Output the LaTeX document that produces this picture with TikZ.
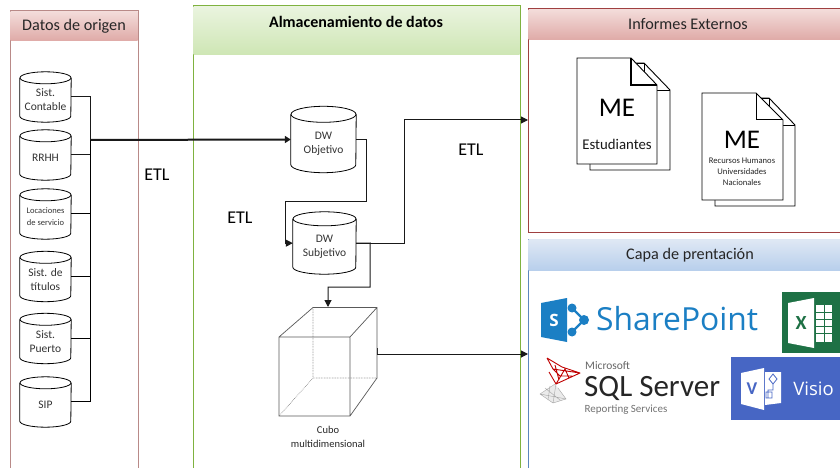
\documentclass[tikz,border=0pt]{standalone}
\usepackage{fontspec}
\setmainfont{Carlito}
\newfontfamily\segoe{Open Sans}
\usetikzlibrary{arrows.meta,calc}
\definecolor{panelred}{HTML}{B98A88}
\definecolor{darkred}{HTML}{A04040}
\definecolor{panelgreen}{HTML}{7FB23F}
\definecolor{panelblue}{HTML}{5C86BF}
\definecolor{spblue}{HTML}{1B7FC4}
\definecolor{xlgreen}{HTML}{1E7145}
\definecolor{visblue}{HTML}{4766C4}
\definecolor{redtop}{HTML}{F3DCDA}
\definecolor{redbot}{HTML}{DFAAA7}
\definecolor{greentop}{HTML}{EAF4DF}
\definecolor{greenbot}{HTML}{CEE6B4}
\definecolor{bluetop}{HTML}{DFE8F4}
\definecolor{bluebot}{HTML}{B8CFEC}
\tikzset{
  x=1pt,y=-1pt,
  db/.style={rectangle,minimum height=44pt,minimum width=51pt,inner sep=0pt,align=center,text=black!80,font=\fontsize{11.5}{14}\selectfont},
  dbbig/.style={db,minimum height=58pt,minimum width=65pt},
  cylline/.style={draw=black,line width=0.8pt},
  link/.style={draw=black!90,line width=0.8pt},
  buslink/.style={draw=black,line width=1.1pt},
  flow/.style={draw=black!90,line width=1pt,-{Triangle[length=7pt,width=7pt]}},
  panel/.style={draw=#1,line width=1pt,fill=white},
  head/.style={anchor=center,font=\fontsize{16.2}{18}\selectfont,text=black!85},
  etl/.style={font=\fontsize{18}{20}\selectfont,text=black},
  sheet/.style={draw=black,line width=0.9pt,fill=white,line join=miter},
}
\newcommand{\cyl}[3]{%
  \draw[cylline] (#1.north) circle[x radius=#3pt,y radius=#2pt];
  \draw[cylline] (#1.north west) -- ($(#1.south west)+(0,-#2)$)
     arc[start angle=180,end angle=360,x radius=#3pt,y radius=#2pt]
     -- (#1.north east);
}
\begin{document}
\begin{tikzpicture}
\useasboundingbox (0,0) rectangle (840,468);
\clip (0,0) rectangle (840,468);
\fill[white] (0,0) rectangle (840,468);
% panels
\draw[panel=panelred] (10,11) rectangle (138,480);
\shade[top color=redtop,bottom color=redbot] (10.5,11.5) rectangle (137.5,41);
\draw[panel=panelgreen] (193,6) rectangle (520,480);
\shade[top color=greentop,bottom color=greenbot] (193.5,6.5) rectangle (519.5,55);
\draw[panel=darkred] (528,9) rectangle (860,232);
\shade[top color=redtop,bottom color=redbot] (528.5,9.5) rectangle (859,40);
\draw[panel=panelblue] (528,239) rectangle (860,480);
\shade[top color=bluetop,bottom color=bluebot] (528.5,239.5) rectangle (859,270);
\node[head] (h1) at (74,26) {Datos de origen};
\node[head,font=\bfseries\fontsize{16}{18}\selectfont,text=black] (h2) at (356,22) {Almacenamiento de datos};
\node[head] (h3) at (688,24) {Informes Externos};
\node[head] (h4) at (690,255) {Capa de prentación};
% sources
\node[db] (s1) at (45.5,100) {Sist.\\Contable};
\node[db] (s2) at (45.5,158) {RRHH};
\node[db,font=\fontsize{8.5}{12}\selectfont] (s3) at (45.5,217) {Locaciones\\de servicio};
\node[db] (s4) at (45.5,279.5) {Sist. de\\títulos};
\node[db] (s5) at (45.5,341.5) {Sist.\\Puerto};
\node[db] (s6) at (45.5,405) {SIP};
\cyl{s1}{6}{25.5}\cyl{s2}{6}{25.5}\cyl{s3}{6}{25.5}\cyl{s4}{6}{25.5}\cyl{s5}{6}{25.5}\cyl{s6}{6}{25.5}
\coordinate (bus) at (90.5,140);
\draw[link] (s1.7) -| (bus);
\draw[link] (s2.7) -| (bus);
\draw[buslink] (s3.7) -| (bus);
\draw[buslink] (s4.7) -| (bus);
\draw[buslink] (s5.7) -| (bus);
\draw[buslink] (s6.7) -| (bus);
% warehouse
\node[dbbig] (obj) at (323.5,143.5) {DW\\Objetivo};
\node[dbbig,minimum width=63pt,minimum height=55pt] (sub) at (324.5,246.5) {DW\\Subjetivo};
\cyl{obj}{8}{32.5}\cyl{sub}{7}{31.5}
\draw[flow,line width=2pt,-{Triangle[length=6pt,width=7pt]}] (bus) -- (obj.173);
\coordinate (o1) at (366,201);
\coordinate (o2) at (285,201);
\draw[flow] (obj.7) -| (o1) -- (o2) |- (sub.174);
% cube
\coordinate (f1) at (279,337);\coordinate (f2) at (350,337);\coordinate (f3) at (350,416);\coordinate (f4) at (279,416);
\coordinate (b1) at (313,307.5);\coordinate (b2) at (377,307.5);\coordinate (b3) at (377,378);\coordinate (b4) at (313,378);
\draw[black!55,densely dotted,line width=0.6pt] (b1) -- (b4) -- (b3) (b4) -- (f4);
\draw[black!65,line width=0.7pt] (f1) -- (b1) -- (b2) -- (b3) -- (f3) -- (f4) -- (f1) -- (f2) -- (f3) (f2) -- (b2);
\coordinate (cubetop) at (328,307);
\coordinate (cubeside) at (377,354);
\coordinate (subbranch) at (370,243);
\coordinate (cubejog) at (370,287);
\draw[flow] (sub.6) -- (subbranch) -- (cubejog) -| (cubetop);
\coordinate (inf) at (528,120);
\coordinate (infbend) at (404,120);
\draw[flow] (sub.6) -| (infbend) -- (inf);
\coordinate (cap) at (528,354);
\draw[black!80,line width=0.7pt] (377,348) -- (cubeside);
\draw[flow] (cubeside) -- (cap);
\node[align=center,font=\fontsize{10.5}{14}\selectfont,text=black!85] (cubelabel) at (328,437) {Cubo\\multidimensional};
\node[etl] (e1) at (157,175) {ETL};
\node[etl] (e2) at (240,218) {ETL};
\node[etl] (e3) at (471,150) {ETL};
% documents
\draw[sheet] (644,63) -- (670,90) -- (670,170) -- (590,170) -- (590,150) -- (635,150) -- (635,63) -- cycle;
\draw[line width=0.8pt] (635,63) -- (644,63) -- (644,72);
\draw[line width=0.9pt] (657,90) -- (670,90);
\draw[sheet] (577,58) -- (631,58) -- (657,85) -- (657,164) -- (577,164) -- cycle;
\draw[line width=1.2pt] (631,58) -- (631,85) -- (657,85);
\node[font=\fontsize{27}{28}\selectfont,text=black] (me1) at (617,108) {ME};
\node[font=\fontsize{14.8}{16}\selectfont,text=black!90] (est) at (617,144) {Estudiantes};
\draw[sheet] (769,98) -- (795,125) -- (795,206) -- (715,206) -- (715,185) -- (760,185) -- (760,98) -- cycle;
\draw[line width=0.8pt] (760,98) -- (769,98) -- (769,107);
\draw[line width=0.9pt] (783,125) -- (795,125);
\draw[sheet] (702,93) -- (756,93) -- (783,120) -- (783,200) -- (702,200) -- cycle;
\draw[line width=1pt] (756,93) -- (756,120) -- (783,120);
\node[font=\fontsize{27}{28}\selectfont,text=black] (me2) at (742,140) {ME};
\node[align=center,font=\fontsize{8.6}{11}\selectfont,text=black!85] (rh) at (742,171.5) {Recursos Humanos\\Universidades\\Nacionales};
% SharePoint logo
\fill[spblue] (541,303) -- (567,298) -- (567,342) -- (541,337) -- cycle;
\node[text=white,font=\segoe\bfseries\fontsize{17}{18}\selectfont] (sps) at (554,320) {S};
\draw[spblue,line width=2.4pt] (572,308) -- (584,320) -- (572,332);
\fill[spblue] (572,308) circle (4.5) (584,320) circle (5) (572,332) circle (4.5);
\node[text=spblue,font=\segoe\fontsize{31.8}{34}\selectfont,anchor=west,inner sep=0pt] (sp) at (596,319) {SharePoint};
% SQL Server logo
\fill[black!8] (555,384) -- (540,394) -- (553,403) -- (566,399) -- (558,388) -- cycle;
\draw[black!35,line width=0.4pt] (555,384) -- (540,394) -- (553,403) -- (566,399) -- (558,388) (545,388) -- (560,400) (550,386) -- (548,400) (540,394) -- (566,399) (556,384) -- (553,403);
\draw[red!75!black,line width=0.9pt,line join=round] (547,358) -- (553,369) -- (580,373) -- (556,384) -- (549,372) (547,358) -- (562,367) -- (580,373) (556,384) -- (565,369) -- (569,378) (553,369) -- (560,376) -- (572,376) (555,365) -- (559,380);
\node[text=black!60,font=\fontsize{11.5}{12}\selectfont,anchor=west,inner sep=0pt] (ms) at (585,365.5) {Microsoft};
\node[text=black!85,font=\fontsize{31}{32}\selectfont,anchor=west,inner sep=0pt] (sql) at (584,388) {SQL Server};
\node[text=black!55,font=\fontsize{11}{12}\selectfont,anchor=west,inner sep=0pt] (rs) at (584.5,409.5) {Reporting Services};
% Excel logo
\fill[xlgreen] (782,292) rectangle (845,352.5);
\fill[white] (816,305) rectangle (832,342);
\draw[xlgreen,line width=0.7pt] (824,305) -- (824,342) (816,312) -- (832,312) (816,319) -- (832,319) (816,326) -- (832,326) (816,333) -- (832,333);
\fill[white] (788,303) -- (814,298) -- (814,348) -- (788,343) -- cycle;
\node[text=xlgreen,font=\bfseries\fontsize{20}{20}\selectfont] (xl) at (801,323) {X};
% Visio logo
\fill[visblue] (731,357) rectangle (845,420);
\fill[white] (765,372) -- (781,372) -- (781,403) -- (765,405) -- cycle;
\fill[white] (741,373) -- (764,368) -- (764,410) -- (741,404) -- cycle;
\node[text=visblue,font=\bfseries\fontsize{18}{18}\selectfont] (vv) at (752,389) {V};
\draw[visblue,line width=0.8pt] (773,374) -- (777,379) -- (773,384) -- (769,379) -- cycle (773,384) -- (773,390) -- (768,390) -- (768,398) (766,392) rectangle (772,398);
\node[text=white,font=\segoe\fontsize{18.5}{20}\selectfont] (vis) at (813.5,389) {Visio};
\end{tikzpicture}
\end{document}
